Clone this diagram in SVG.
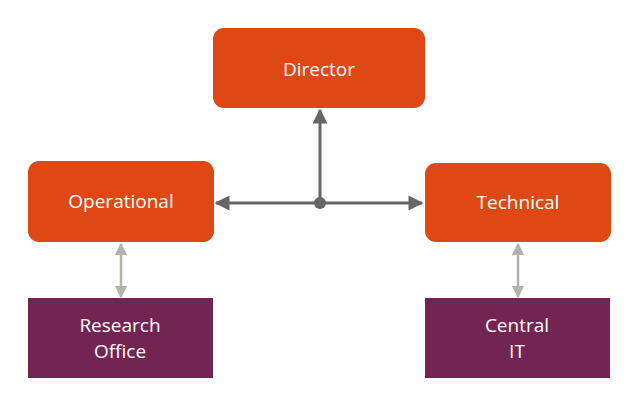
<svg xmlns="http://www.w3.org/2000/svg" width="640" height="406" viewBox="0 0 640 406">
<style>
.o{fill:#dd4814}
.p{fill:#722552}
text{font-family:"Open Sans","Liberation Sans",sans-serif;font-size:19px;fill:#fff;text-anchor:middle}
.d{stroke:#666;stroke-width:3;fill:none}
.g{stroke:#b5b1ab;stroke-width:2.5;fill:none}
</style>
<defs>
<marker id="ad" viewBox="0 0 10 10" refX="9" refY="5" markerWidth="6" markerHeight="5" markerUnits="strokeWidth" orient="auto-start-reverse"><path d="M0,0L10,5L0,10z" fill="#666"/></marker>
<marker id="ag" viewBox="0 0 10 10" refX="9" refY="5" markerWidth="5" markerHeight="5" markerUnits="strokeWidth" orient="auto-start-reverse"><path d="M0,0L10,5L0,10z" fill="#b5b1ab"/></marker>
</defs>
<g id="director"><rect class="o" x="213" y="28" width="212" height="80" rx="11"/><text x="319" y="76">Director</text></g>
<g id="operational"><rect class="o" x="28" y="161" width="186" height="81" rx="11"/><text x="121" y="208">Operational</text></g>
<g id="technical"><rect class="o" x="425" y="163" width="186" height="79" rx="11"/><text x="518" y="209">Technical</text></g>
<g id="research"><rect class="p" x="28" y="298" width="185" height="80"/><text x="120" y="332">Research</text><text x="120" y="358">Office</text></g>
<g id="central"><rect class="p" x="425" y="298" width="185" height="80"/><text x="517" y="332">Central</text><text x="517" y="358">IT</text></g>
<g id="connectors">
<line class="d" x1="216" y1="203" x2="422" y2="203" marker-start="url(#ad)" marker-end="url(#ad)"/>
<line class="d" x1="320" y1="203" x2="320" y2="110" marker-end="url(#ad)"/>
<circle cx="320" cy="203" r="6" fill="#666"/>
<line class="g" x1="121" y1="244" x2="121" y2="297" marker-start="url(#ag)" marker-end="url(#ag)"/>
<line class="g" x1="518" y1="244" x2="518" y2="297" marker-start="url(#ag)" marker-end="url(#ag)"/>
</g>
</svg>
